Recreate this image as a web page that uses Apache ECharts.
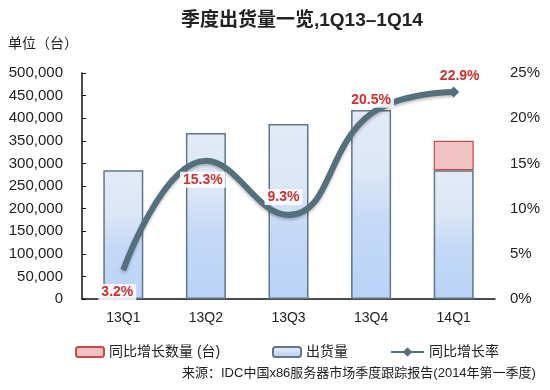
<!DOCTYPE html>
<html><head><meta charset="utf-8">
<script src="https://cdn.jsdelivr.net/npm/echarts@6/dist/echarts.min.js"></script>
<style>html,body{margin:0;padding:0;background:#fff}#c{width:550px;height:390px}</style>
</head><body><div id="c"></div>
<script>
var categories = ['13Q1','13Q2','13Q3','13Q4','14Q1'];
var shipments = [285000, 367000, 387000, 418000, 285000];
var growthUnits = [null, null, null, null, 65000];
var growthRate = [3.2, 15.3, 9.3, 20.5, 22.9];
var leftTicks = {min: 0, max: 500000, interval: 50000};
var rightTicks = {min: 0, max: 25, interval: 5};

var FONT = 'Liberation Sans, Arial, "Noto Sans CJK SC", sans-serif';
var labelOffsets = [[-6,22],[-3,19],[-5,-18],[0,-14],[6,-16]];

var chart = echarts.init(document.getElementById('c'));
chart.setOption({
  animation: false,
  textStyle: {fontFamily: FONT},
  grid: {left: 82, right: 55, top: 73, bottom: 91},
  legend: [
    {data: ['同比增长数量 (台)'], left: 70, top: 340, itemWidth: 28, itemHeight: 10, itemGap: 4,
     textStyle: {fontSize: 14, color: '#222', fontFamily: FONT}},
    {data: ['出货量'], left: 267, top: 340, itemWidth: 28, itemHeight: 10,
     textStyle: {fontSize: 14, color: '#222', fontFamily: FONT}},
    {data: ['同比增长率'], left: 385, top: 340, itemWidth: 33, itemHeight: 12,
     textStyle: {fontSize: 14, color: '#222', fontFamily: FONT}}
  ],
  graphic: [
    {type: 'text', left: 181, top: 11, style: {text: '季度出货量一览,1Q13–1Q14', font: 'bold 19px ' + FONT, fill: '#222'}},
    {type: 'text', left: 8, top: 37, style: {text: '单位（台）', font: '14px ' + FONT, fill: '#222'}},
    {type: 'text', left: 182, top: 367, style: {text: '来源：IDC中国x86服务器市场季度跟踪报告(2014年第一季度)', font: '13px ' + FONT, fill: '#222'}}
  ],
  xAxis: {
    type: 'category', data: categories,
    axisLine: {lineStyle: {color: '#111', width: 1.5}},
    axisTick: {inside: true, length: 5, lineStyle: {color: '#111'}},
    axisLabel: {fontSize: 14, color: '#222', margin: 12, fontFamily: FONT}
  },
  yAxis: [
    {type: 'value', min: leftTicks.min, max: leftTicks.max, interval: leftTicks.interval,
     splitLine: {show: false},
     axisLine: {show: true, lineStyle: {color: '#111', width: 1.5}},
     axisTick: {show: true, inside: true, length: 4, lineStyle: {color: '#111'}},
     axisLabel: {fontSize: 15, color: '#222', margin: 19, fontFamily: FONT,
       formatter: function(v){return v.toString().replace(/\B(?=(\d{3})+(?!\d))/g, ',');}}},
    {type: 'value', min: rightTicks.min, max: rightTicks.max, interval: rightTicks.interval,
     splitLine: {show: false}, axisLine: {show: false}, axisTick: {show: false},
     axisLabel: {fontSize: 15, color: '#222', margin: 15, formatter: '{value}%', fontFamily: FONT}}
  ],
  series: [
    {name: '出货量', type: 'bar', stack: 's', data: shipments, barWidth: 40,
     itemStyle: {
       color: {type: 'linear', x: 0, y: 0, x2: 0, y2: 1, colorStops: [
         {offset: 0, color: '#e2eaf6'}, {offset: 0.35, color: '#dbe6f6'}, {offset: 0.6, color: '#c4d9f6'}, {offset: 1, color: '#b9d3f7'}]},
       borderColor: '#5f7787', borderWidth: 1.5}},
    {name: '同比增长数量 (台)', type: 'bar', stack: 's', data: growthUnits, barWidth: 40,
     itemStyle: {color: '#f0c2c2', borderColor: '#c84848', borderWidth: 1.2}},
    {name: '同比增长率', type: 'line', yAxisIndex: 1, smooth: 0.45,
     symbol: 'diamond',
     symbolSize: function(v, p){ return p.dataIndex === 4 ? 11 : 1; },
     lineStyle: {color: '#55707d', width: 6, shadowColor: 'rgba(0,0,0,0.25)', shadowBlur: 3, shadowOffsetY: 2},
     itemStyle: {color: '#55707d'},
     data: growthRate.map(function(v, i){
       return {value: v, label: {offset: labelOffsets[i]}};
     }),
     label: {show: true, position: 'inside', formatter: '{c}%', color: '#d03030', fontWeight: 'bold', fontSize: 14,
       fontFamily: FONT, backgroundColor: 'rgba(255,255,255,0.85)', padding: [1, 3]}}
  ]
});
</script></body></html>
